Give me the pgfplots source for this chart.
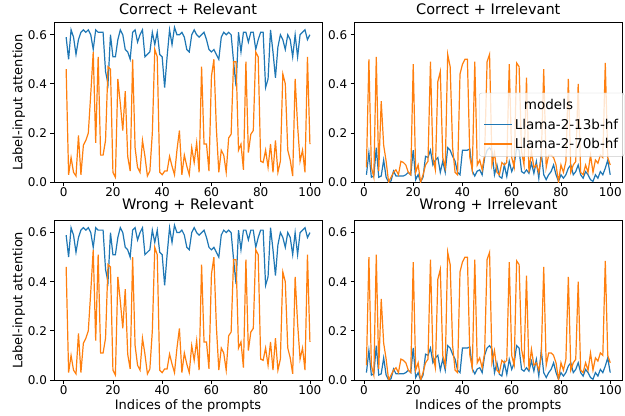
\documentclass[border=0pt]{standalone}
\usepackage{fontspec}
\setmainfont{DejaVu Sans}
\usepackage{pgfplots}
\pgfplotsset{compat=1.18}
\usepackage{pgfplotstable}
\usepgfplotslibrary{groupplots}
\definecolor{tabblue}{HTML}{1F77B4}
\definecolor{taborange}{HTML}{FF7F0E}

% i, relevant (13b, 70b), irrelevant (13b, 70b)
\pgfplotstableread{
i lb lo rb ro
1 0.59 0.46 0.03 0.06
2 0.50 0.03 0.12 0.50
3 0.62 0.10 0.02 0.06
4 0.59 0.04 0.025 0.02
5 0.52 0.025 0.14 0.51
6 0.58 0.19 0.02 0.045
7 0.61 0.03 0.025 0.33
8 0.62 0.15 0.09 0.15
9 0.61 0.17 0.02 0.085
10 0.62 0.20 0.00 0.00
11 0.60 0.36 0.005 0.02
12 0.54 0.53 0.045 0.04
13 0.62 0.16 0.025 0.05
14 0.61 0.51 0.025 0.03
15 0.61 0.11 0.025 0.085
16 0.61 0.11 0.025 0.08
17 0.45 0.17 0.03 0.07
18 0.40 0.47 0.04 0.04
19 0.60 0.46 0.03 0.03
20 0.51 0.04 0.13 0.48
21 0.51 0.02 0.01 0.04
22 0.58 0.42 0.03 0.07
23 0.62 0.32 0.00 0.00
24 0.60 0.21 0.02 0.03
25 0.54 0.37 0.105 0.07
26 0.53 0.105 0.10 0.085
27 0.50 0.045 0.13 0.49
28 0.61 0.50 0.07 0.10
29 0.62 0.14 0.09 0.05
30 0.57 0.06 0.10 0.41
31 0.60 0.04 0.04 0.45
32 0.62 0.17 0.085 0.10
33 0.51 0.105 0.04 0.06
34 0.52 0.025 0.14 0.52
35 0.53 0.045 0.13 0.47
36 0.61 0.20 0.105 0.14
37 0.56 0.54 0.085 0.04
38 0.61 0.51 0.04 0.03
39 0.52 0.04 0.03 0.44
40 0.51 0.03 0.13 0.48
41 0.385 0.045 0.13 0.50
42 0.51 0.045 0.13 0.50
43 0.62 0.105 0.135 0.10
44 0.56 0.065 0.045 0.05
45 0.63 0.03 0.025 0.49
46 0.60 0.13 0.045 0.07
47 0.60 0.21 0.05 0.09
48 0.61 0.03 0.03 0.05
49 0.59 0.11 0.10 0.11
50 0.54 0.065 0.13 0.49
51 0.53 0.03 0.14 0.52
52 0.60 0.14 0.125 0.07
53 0.62 0.08 0.03 0.12
54 0.60 0.16 0.07 0.04
55 0.59 0.04 0.023 0.03
56 0.60 0.47 0.016 0.08
57 0.61 0.155 0.07 0.07
58 0.58 0.155 0.023 0.08
59 0.54 0.045 0.084 0.48
60 0.53 0.43 0.043 0.10
61 0.54 0.50 0.07 0.06
62 0.52 0.22 0.14 0.485
63 0.50 0.04 0.13 0.47
64 0.59 0.13 0.043 0.125
65 0.61 0.11 0.036 0.07
66 0.60 0.04 0.05 0.425
67 0.61 0.18 0.036 0.04
68 0.60 0.195 0.077 0.125
69 0.49 0.49 0.036 0.06
70 0.39 0.49 0.084 0.07
71 0.61 0.13 0.016 0.04
72 0.53 0.155 0.12 0.10
73 0.61 0.05 0.03 0.46
74 0.61 0.49 0.01 0.06
75 0.57 0.12 0.03 0.11
76 0.61 0.195 0.043 0.11
77 0.61 0.21 0.07 0.10
78 0.54 0.53 0.03 0.07
79 0.58 0.51 0.003 0.00
80 0.61 0.085 0.03 0.07
81 0.61 0.08 0.016 0.04
82 0.385 0.13 0.03 0.084
83 0.42 0.06 0.057 0.42
84 0.62 0.155 0.07 0.04
85 0.53 0.04 0.03 0.07
86 0.425 0.17 0.043 0.084
87 0.55 0.04 0.07 0.40
88 0.60 0.085 0.03 0.04
89 0.58 0.44 0.016 0.03
90 0.54 0.40 0.043 0.07
91 0.60 0.13 0.03 0.04
92 0.58 0.09 0.01 0.11
93 0.51 0.025 0.003 0.04
94 0.60 0.42 0.03 0.09
95 0.51 0.23 0.016 0.077
96 0.60 0.085 0.043 0.11
97 0.61 0.13 0.03 0.10
98 0.62 0.04 0.057 0.485
99 0.58 0.51 0.09 0.10
100 0.60 0.155 0.03 0.07
}\attn

\begin{document}
\begin{tikzpicture}
\begin{groupplot}[
  group style={group size=2 by 2, horizontal sep=32bp, vertical sep=38bp},
  scale only axis, width=267bp, height=159bp,
  xmin=-3.95, xmax=104.95, ymin=0, ymax=0.65,
  xtick={0,20,...,100}, ytick={0,0.2,0.4,0.6},
  yticklabel style={/pgf/number format/.cd, fixed, fixed zerofill, precision=1},
  /pgf/number format/assume math mode=true,
  tick align=outside, tick pos=left, major tick length=3.5bp,
  every tick/.style={black, line width=0.8bp},
  axis line style={line width=0.8bp},
  ticklabel style={font=\fontsize{12}{13}\selectfont},
  xticklabel style={inner ysep=1.5bp},
  label style={font=\fontsize{13}{15}\selectfont},
  ylabel shift=-4bp,
  title style={font=\fontsize{14.5}{17}\selectfont, inner ysep=1.5bp},
  every axis plot/.append style={line width=1.2bp, no markers},
  legend cell align=left,
  legend image code/.code={\draw[#1, line width=1.5bp] (0bp,0bp) -- (28bp,0bp);},
]
\nextgroupplot[title={Correct + Relevant}, ylabel={Label-input attention}]
\addplot[tabblue] table[x=i, y=lb] {\attn};
\addplot[taborange] table[x=i, y=lo] {\attn};

\nextgroupplot[title={Correct + Irrelevant},
  legend style={at={(1.0,0.36)}, anchor=east, xshift=2bp,
    fill=white, fill opacity=0.8, draw opacity=1, text opacity=1,
    draw=black!20, rounded corners=2.5pt, inner xsep=4bp, inner ysep=4.5bp,
    font=\fontsize{13.5}{15}\selectfont, row sep=3.5bp}]
\addlegendimage{empty legend}
\addlegendentry{\hspace{9bp}models}
\addplot[tabblue] table[x=i, y=rb] {\attn};
\addlegendentry{Llama-2-13b-hf}
\addplot[taborange] table[x=i, y=ro] {\attn};
\addlegendentry{Llama-2-70b-hf}

\nextgroupplot[title={Wrong + Relevant}, ylabel={Label-input attention}, xlabel={Indices of the prompts}]
\addplot[tabblue] table[x=i, y=lb] {\attn};
\addplot[taborange] table[x=i, y=lo] {\attn};

\nextgroupplot[title={Wrong + Irrelevant}, xlabel={Indices of the prompts}]
\addplot[tabblue] table[x=i, y=rb] {\attn};
\addplot[taborange] table[x=i, y=ro] {\attn};
\end{groupplot}
% white margins, as in the reference
\path ([xshift=-9bp]current bounding box.west);
\path ([yshift=2bp]current bounding box.north);
\end{tikzpicture}
\end{document}
